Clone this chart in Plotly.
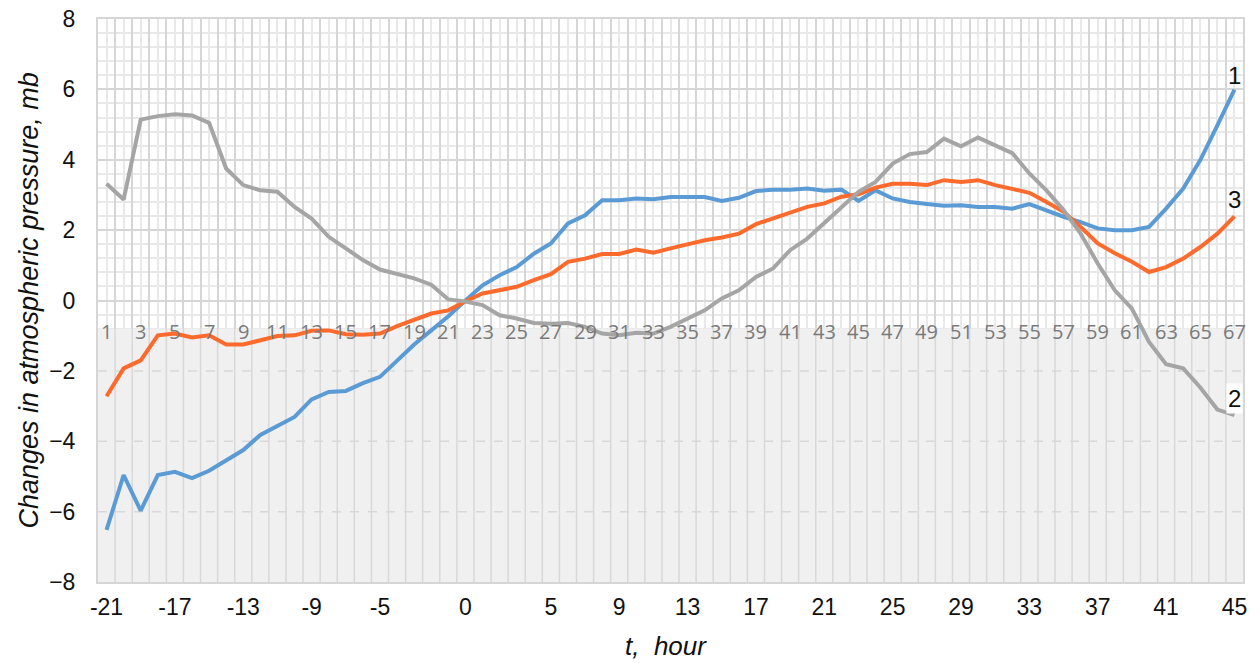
import plotly.graph_objects as go

# Time axis (hours relative to the event) and observation numbers
hours = list(range(-21, 46))
obs_numbers = list(range(1, 68))

# Pressure change series, mb
series_1 = [-6.52, -4.96, -5.97, -4.96, -4.87, -5.05, -4.84, -4.54, -4.25, -3.82,
            -3.57, -3.31, -2.81, -2.60, -2.57, -2.35, -2.17, -1.72, -1.25, -0.85,
            -0.45, 0.00, 0.43, 0.72, 0.95, 1.33, 1.62, 2.19, 2.42, 2.85,
            2.85, 2.90, 2.88, 2.94, 2.95, 2.94, 2.83, 2.92, 3.11, 3.15,
            3.15, 3.18, 3.12, 3.15, 2.83, 3.13, 2.90, 2.80, 2.74, 2.69,
            2.71, 2.66, 2.66, 2.61, 2.74, 2.55, 2.38, 2.23, 2.05, 2.00,
            2.00, 2.09, 2.61, 3.18, 3.99, 4.98, 5.99]
series_2 = [3.32, 2.87, 5.14, 5.24, 5.29, 5.26, 5.05, 3.75, 3.28, 3.13,
            3.09, 2.66, 2.33, 1.81, 1.48, 1.15, 0.88, 0.75, 0.63, 0.45,
            0.03, -0.03, -0.13, -0.42, -0.51, -0.64, -0.66, -0.64, -0.75, -0.94,
            -0.99, -0.92, -0.94, -0.75, -0.51, -0.28, 0.06, 0.29, 0.67, 0.91,
            1.43, 1.76, 2.20, 2.66, 3.09, 3.37, 3.89, 4.16, 4.22, 4.60,
            4.38, 4.63, 4.41, 4.19, 3.61, 3.13, 2.57, 1.90, 1.05, 0.29,
            -0.23, -1.18, -1.81, -1.93, -2.47, -3.10, -3.26]
series_3 = [-2.72, -1.93, -1.70, -0.99, -0.94, -1.05, -0.99, -1.25, -1.25, -1.13,
            -1.01, -0.99, -0.86, -0.85, -0.96, -0.97, -0.94, -0.73, -0.54, -0.37,
            -0.28, -0.02, 0.20, 0.29, 0.39, 0.58, 0.75, 1.10, 1.19, 1.32,
            1.32, 1.45, 1.36, 1.48, 1.60, 1.71, 1.79, 1.90, 2.17, 2.33,
            2.52, 2.66, 2.76, 2.95, 3.02, 3.21, 3.32, 3.32, 3.28, 3.42,
            3.37, 3.42, 3.28, 3.18, 3.06, 2.80, 2.52, 2.09, 1.62, 1.34,
            1.10, 0.81, 0.95, 1.19, 1.52, 1.90, 2.39]

hour_ticks = [-21, -17, -13, -9, -5, 0, 5, 9, 13, 17, 21, 25, 29, 33, 37, 41, 45]
series_colors = {"1": "#5b9bd5", "2": "#a5a5a5", "3": "#fd6a2c"}

X_RANGE = [-21.5, 45.5]
Y_RANGE = [-8, 8]
BAND_TOP = -0.8          # upper edge of the shaded band
NUM_LABEL_Y = -0.88      # row of observation numbers
GRID = "#d6d6d6"
MINOR = "#e9e9e9"
TEXT = "#111111"
FONT = "Liberation Sans, Arial"

fig = go.Figure()

# lines: 1, 3, then 2 on top
for vals, name in [(series_1, "1"), (series_3, "3"), (series_2, "2")]:
    fig.add_trace(go.Scatter(x=hours, y=vals, mode="lines", name=name,
                             line=dict(color=series_colors[name], width=4),
                             showlegend=False))

# invisible companion trace so the hour-label axis is laid out
fig.add_trace(go.Scatter(x=hours, y=series_1, xaxis="x2", mode="lines",
                         line=dict(width=0), opacity=0, hoverinfo="skip",
                         showlegend=False))

shapes = []
# shaded lower band, sits over the fine grid but under the lines
shapes.append(dict(type="rect", xref="x", yref="y", layer="between",
                   x0=X_RANGE[0], x1=X_RANGE[1], y0=Y_RANGE[0], y1=BAND_TOP,
                   fillcolor="#f0f0f0", line=dict(width=0)))
# vertical separators inside the band
k = X_RANGE[0] + 1
while k < X_RANGE[1]:
    shapes.append(dict(type="line", xref="x", yref="y", layer="between",
                       x0=k, x1=k, y0=Y_RANGE[0], y1=BAND_TOP,
                       line=dict(color="#d8d8d8", width=1.5)))
    k += 1
# dashed horizontals inside the band
for yv in [-2, -4, -6]:
    shapes.append(dict(type="line", xref="x", yref="y", layer="between",
                       x0=X_RANGE[0], x1=X_RANGE[1], y0=yv, y1=yv,
                       line=dict(color="#d8d8d8", width=1.5, dash="dash")))

annotations = []
# observation numbers along the band
for n, h in zip(obs_numbers, hours):
    if n % 2 == 1:
        annotations.append(dict(x=h, y=NUM_LABEL_Y, xref="x", yref="y", text=str(n),
                                showarrow=False, xanchor="center", yanchor="middle",
                                font=dict(family="Open Sans", size=20, color="#7a7a7a")))

# series labels at the right end
end_labels = [("1", series_1[-1], -1, None),
              ("3", series_3[-1], 1, None),
              ("2", series_2[-1], 1, "white")]
for txt, yend, shift, bg in end_labels:
    a = dict(x=hours[-1], y=yend, xref="x", yref="y", text=txt, showarrow=False,
             xanchor="center", yanchor="bottom", yshift=shift,
             font=dict(family=FONT, size=24, color=TEXT))
    if bg:
        a["bgcolor"] = bg
        a["borderpad"] = 1
    annotations.append(a)

# axis titles
annotations.append(dict(xref="paper", yref="paper", x=0, y=0.5, xshift=-70,
                        text="<i>Changes in atmospheric pressure, mb</i>",
                        textangle=-90, showarrow=False, xanchor="center", yanchor="middle",
                        font=dict(family=FONT, size=27, color=TEXT)))
annotations.append(dict(xref="paper", yref="paper", x=(666 - 98) / 1145, y=0, yshift=-64,
                        text="<i>t,  hour</i>", showarrow=False,
                        xanchor="center", yanchor="middle",
                        font=dict(family=FONT, size=26, color=TEXT)))

fig.update_layout(
    width=1260, height=663,
    margin=dict(l=98, r=17, t=19, b=81, autoexpand=False),
    paper_bgcolor="white", plot_bgcolor="white",
    shapes=shapes, annotations=annotations,
    xaxis=dict(
        range=X_RANGE, tickmode="linear", tick0=0.5, dtick=1,
        showticklabels=False,
        showgrid=True, gridcolor=GRID, gridwidth=2,
        minor=dict(dtick=0.5, showgrid=True, gridcolor=MINOR, gridwidth=1.5, ticks=""),
        showline=True, linecolor=GRID, linewidth=2, mirror=True,
        zeroline=False, ticks="",
    ),
    xaxis2=dict(
        range=X_RANGE, overlaying="x", anchor="y", side="bottom",
        tickmode="array", tickvals=hour_ticks,
        ticktext=[str(v) for v in hour_ticks],
        showgrid=False, zeroline=False, showline=False, ticks="",
        ticklabelstandoff=9,
        tickfont=dict(family=FONT, size=23, color=TEXT),
    ),
    yaxis=dict(
        range=Y_RANGE, tickmode="linear", tick0=-8, dtick=2,
        showgrid=True, gridcolor=GRID, gridwidth=2,
        minor=dict(dtick=0.4, showgrid=True, gridcolor=MINOR, gridwidth=1.5, ticks=""),
        showline=True, linecolor=GRID, linewidth=2, mirror=True,
        zeroline=False, ticks="", ticklabelstandoff=16,
        tickfont=dict(family=FONT, size=23, color=TEXT),
    ),
)

fig.write_html("out.html")
